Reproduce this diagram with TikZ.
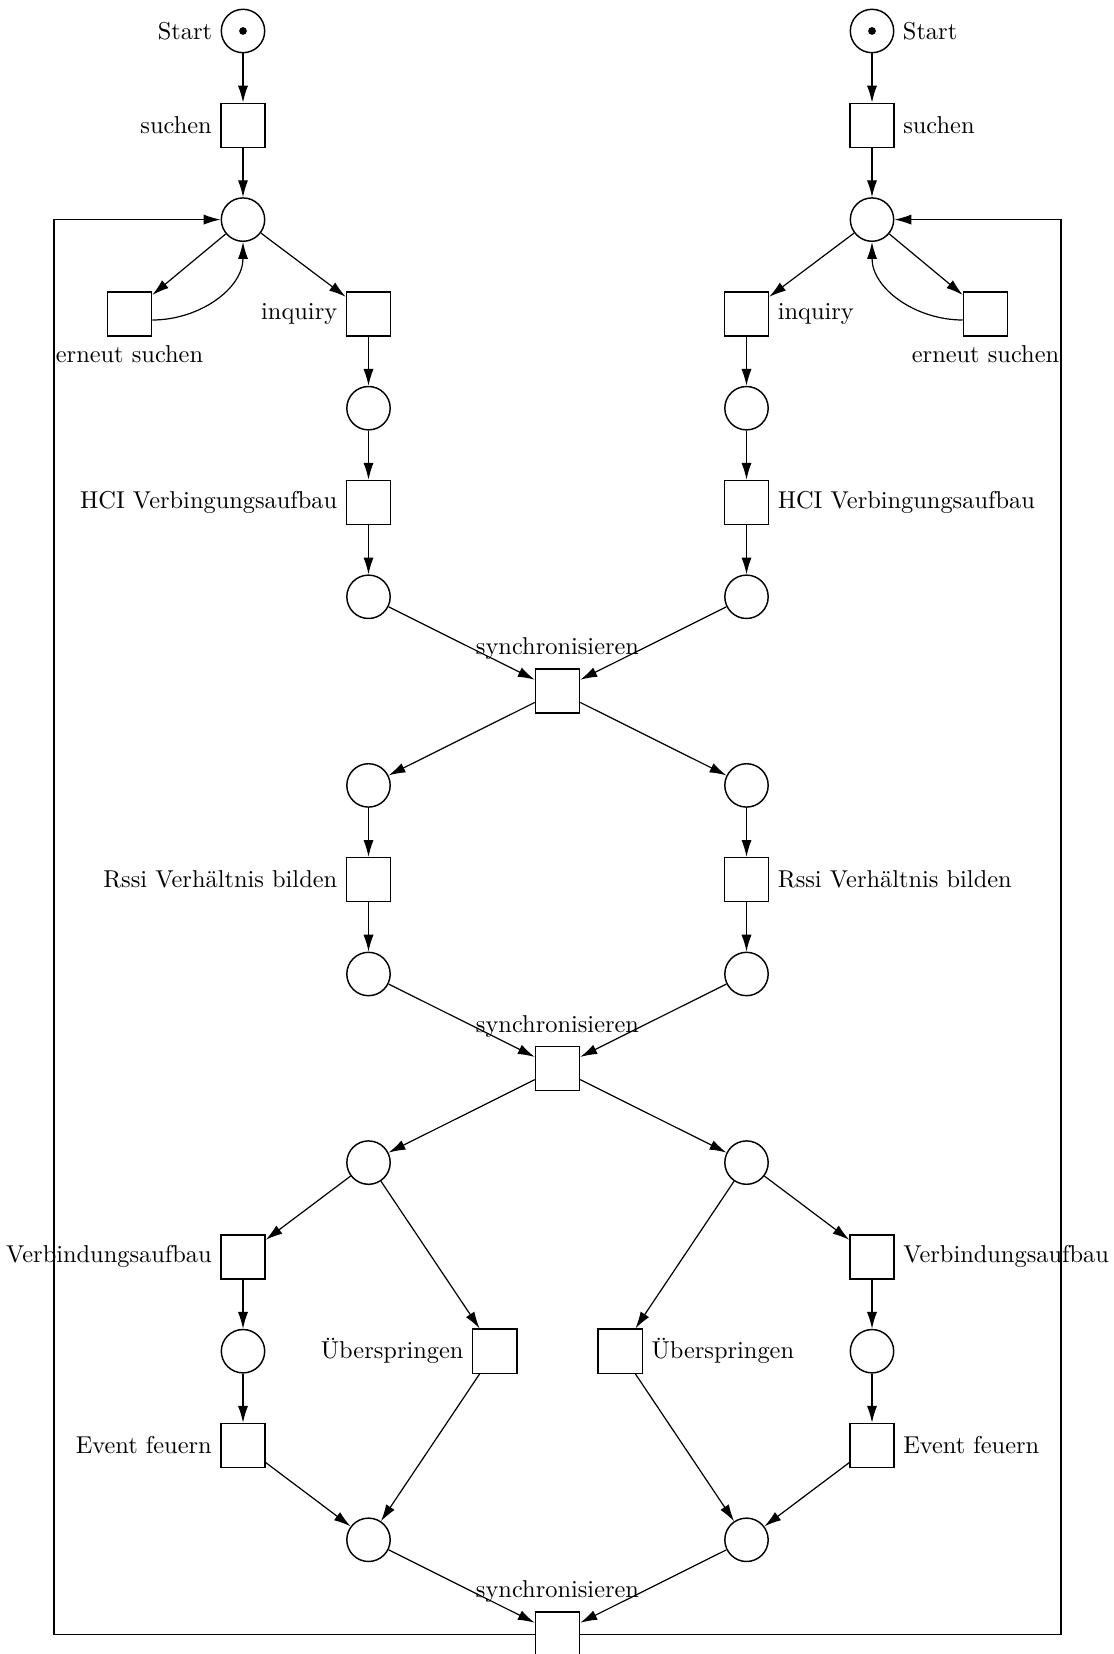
\documentclass[tikz,border=0pt]{standalone}
\usetikzlibrary{arrows.meta}
\begin{document}
\begin{tikzpicture}[x=0.4149pt,y=0.4149pt,
  place/.style={circle,draw,line width=0.6pt,minimum size=18pt,inner sep=0pt},
  transition/.style={rectangle,draw,line width=0.6pt,minimum size=18.3pt,inner sep=0pt},
  arc/.style={-{Latex[length=7pt,width=4.2pt]},line width=0.5pt},
  every label/.append style={font=\fontsize{10.12pt}{12pt}\selectfont}]
\useasboundingbox (0,0) rectangle (1114,-1654);
\clip (0,0) rectangle (1114,-1654);

% ---------- left branch ----------
\node[place,label=left:Start] (startL) at (243,-31) {};
\fill (startL) circle (1.6pt);
\node[transition,label=left:suchen] (suchenL) at (243,-125.3) {};
\node[place] (p0L) at (243,-219.6) {};
\node[transition,label=below:erneut suchen] (erneutL) at (129.5,-313.9) {};
\node[transition,label=left:inquiry] (inqL) at (368.5,-313.9) {};
\node[place] (p1L) at (368.5,-408.2) {};
\node[transition,label=left:HCI Verbingungsaufbau] (hciL) at (368.5,-502.5) {};
\node[place] (p2L) at (368.5,-596.8) {};
\node[place] (p3L) at (368.5,-785.4) {};
\node[transition,label=left:Rssi Verhältnis bilden] (rssiL) at (368.5,-879.7) {};
\node[place] (p4L) at (368.5,-974) {};
\node[place] (p5L) at (368.5,-1162.6) {};
\node[transition,label=left:Verbindungsaufbau] (verbL) at (243,-1256.9) {};
\node[place] (p6L) at (243,-1351.2) {};
\node[transition,label=left:Event feuern] (eventL) at (243,-1445.5) {};
\node[transition,label=left:Überspringen] (skipL) at (494.8,-1351.2) {};
\node[place] (p7L) at (368.5,-1539.8) {};

% ---------- right branch ----------
\node[place,label=right:Start] (startR) at (872,-31) {};
\fill (startR) circle (1.6pt);
\node[transition,label=right:suchen] (suchenR) at (872,-125.3) {};
\node[place] (p0R) at (872,-219.6) {};
\node[transition,label=below:erneut suchen] (erneutR) at (985.5,-313.9) {};
\node[transition,label=right:inquiry] (inqR) at (746.5,-313.9) {};
\node[place] (p1R) at (746.5,-408.2) {};
\node[transition,label=right:HCI Verbingungsaufbau] (hciR) at (746.5,-502.5) {};
\node[place] (p2R) at (746.5,-596.8) {};
\node[place] (p3R) at (746.5,-785.4) {};
\node[transition,label=right:Rssi Verhältnis bilden] (rssiR) at (746.5,-879.7) {};
\node[place] (p4R) at (746.5,-974) {};
\node[place] (p5R) at (746.5,-1162.6) {};
\node[transition,label=right:Verbindungsaufbau] (verbR) at (872,-1256.9) {};
\node[place] (p6R) at (872,-1351.2) {};
\node[transition,label=right:Event feuern] (eventR) at (872,-1445.5) {};
\node[transition,label=right:Überspringen] (skipR) at (620.2,-1351.2) {};
\node[place] (p7R) at (746.5,-1539.8) {};

% ---------- shared synchronisation ----------
\node[transition,label=above:synchronisieren] (sync1) at (557.5,-691.1) {};
\node[transition,label=above:synchronisieren] (sync2) at (557.5,-1068.3) {};
\node[transition,label=above:synchronisieren] (sync3) at (557.5,-1634.1) {};

\coordinate (loopL) at (54,-219.6);
\coordinate (loopR) at (1061,-219.6);

% ---------- arcs, left ----------
\draw[arc] (startL) -- (suchenL);
\draw[arc] (suchenL) -- (p0L);
\draw[arc] (p0L) -- (erneutL);
\draw[arc] (erneutL.-15) to[out=0,in=-90] (p0L);
\draw[arc] (p0L) -- (inqL);
\draw[arc] (inqL) -- (p1L);
\draw[arc] (p1L) -- (hciL);
\draw[arc] (hciL) -- (p2L);
\draw[arc] (p2L) -- (sync1);
\draw[arc] (sync1) -- (p3L);
\draw[arc] (p3L) -- (rssiL);
\draw[arc] (rssiL) -- (p4L);
\draw[arc] (p4L) -- (sync2);
\draw[arc] (sync2) -- (p5L);
\draw[arc] (p5L) -- (verbL);
\draw[arc] (verbL) -- (p6L);
\draw[arc] (p6L) -- (eventL);
\draw[arc] (eventL) -- (p7L);
\draw[arc] (p5L) -- (skipL);
\draw[arc] (skipL) -- (p7L);
\draw[arc] (p7L) -- (sync3);
\draw[arc] (sync3.west) -| (loopL) -- (p0L);

% ---------- arcs, right ----------
\draw[arc] (startR) -- (suchenR);
\draw[arc] (suchenR) -- (p0R);
\draw[arc] (p0R) -- (erneutR);
\draw[arc] (erneutR.-165) to[out=180,in=-90] (p0R);
\draw[arc] (p0R) -- (inqR);
\draw[arc] (inqR) -- (p1R);
\draw[arc] (p1R) -- (hciR);
\draw[arc] (hciR) -- (p2R);
\draw[arc] (p2R) -- (sync1);
\draw[arc] (sync1) -- (p3R);
\draw[arc] (p3R) -- (rssiR);
\draw[arc] (rssiR) -- (p4R);
\draw[arc] (p4R) -- (sync2);
\draw[arc] (sync2) -- (p5R);
\draw[arc] (p5R) -- (verbR);
\draw[arc] (verbR) -- (p6R);
\draw[arc] (p6R) -- (eventR);
\draw[arc] (eventR) -- (p7R);
\draw[arc] (p5R) -- (skipR);
\draw[arc] (skipR) -- (p7R);
\draw[arc] (p7R) -- (sync3);
\draw[arc] (sync3.east) -| (loopR) -- (p0R);
\end{tikzpicture}
\end{document}
